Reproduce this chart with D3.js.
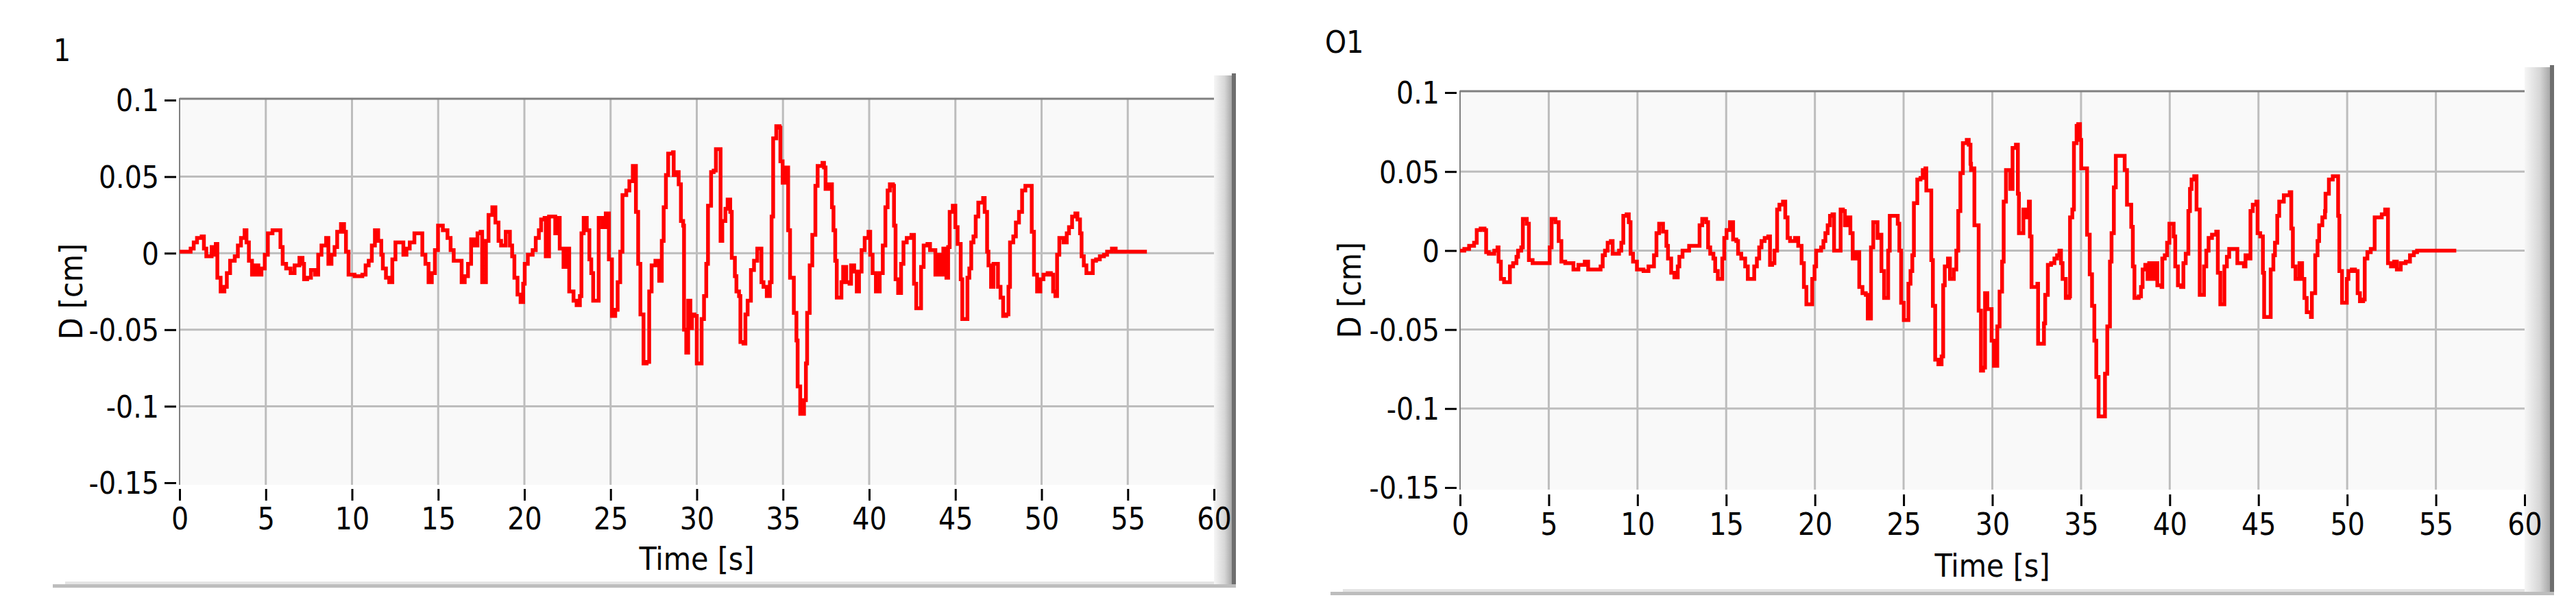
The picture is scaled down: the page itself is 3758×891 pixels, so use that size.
<!DOCTYPE html>
<html>
<head>
<meta charset="utf-8">
<script src="https://cdn.jsdelivr.net/npm/d3@7"></script>
<style>
  body { margin: 0; background: #fff; }
  svg text { font-family: "Liberation Sans Narrow", "DejaVu Sans Condensed", "Liberation Sans", sans-serif; fill: #000; }
</style>
</head>
<body>
<svg id="chart" width="3758" height="891"></svg>
<script>
// tick values shared by both graphs
const xTicks = d3.range(0, 61, 5);
const yTicks = [0.1, 0.05, 0, -0.05, -0.1, -0.15];
const gridX = d3.range(5, 56, 5);
const gridY = [0.05, 0, -0.05, -0.1];
const titles = ["1", "O1"];
const xLabel = "Time [s]";
const yLabel = "D [cm]";

// [time s, displacement cm]
const trace1 = [[0.00,0.001],[0.37,0.001],[0.64,0.003],[0.82,0.007],[1.01,0.010],[1.28,0.011],[1.41,0.003],[1.55,-0.002],[1.74,-0.002],[1.86,0.004],[2.01,-0.001],[2.10,0.006],[2.19,-0.016],[2.38,-0.025],[2.60,-0.022],[2.74,-0.013],[2.93,-0.005],[3.20,-0.002],[3.38,0.005],[3.56,0.010],[3.77,0.015],[3.88,0.007],[4.02,-0.005],[4.20,-0.014],[4.39,-0.008],[4.57,-0.014],[4.75,-0.010],[4.94,-0.001],[5.12,0.013],[5.39,0.015],[5.67,0.015],[5.85,0.004],[5.98,-0.007],[6.18,-0.010],[6.44,-0.013],[6.67,-0.008],[6.95,-0.003],[7.13,-0.007],[7.22,-0.017],[7.40,-0.016],[7.62,-0.011],[7.86,-0.014],[8.04,-0.001],[8.23,0.005],[8.50,0.010],[8.63,-0.007],[8.81,-0.001],[8.99,0.004],[9.14,0.014],[9.36,0.019],[9.54,0.014],[9.65,0.001],[9.80,-0.014],[10.15,-0.015],[10.60,-0.014],[10.79,-0.008],[10.97,-0.005],[11.15,0.005],[11.33,0.015],[11.52,0.008],[11.70,-0.001],[11.79,-0.010],[11.97,-0.016],[12.16,-0.019],[12.34,-0.004],[12.52,0.007],[12.80,0.007],[12.98,-0.001],[13.16,0.003],[13.35,0.007],[13.62,0.013],[13.86,0.013],[14.08,-0.001],[14.26,-0.007],[14.44,-0.019],[14.63,-0.013],[14.81,0.002],[14.99,0.018],[15.27,0.015],[15.54,0.010],[15.72,0.002],[15.90,-0.005],[16.18,-0.005],[16.36,-0.019],[16.54,-0.015],[16.73,-0.007],[16.91,0.009],[17.09,0.005],[17.28,0.013],[17.46,0.014],[17.55,-0.019],[17.77,0.008],[17.92,0.025],[18.14,0.030],[18.32,0.020],[18.50,0.008],[18.65,0.005],[18.92,0.014],[19.16,0.005],[19.29,-0.002],[19.42,-0.016],[19.60,-0.027],[19.78,-0.032],[19.93,-0.020],[20.02,-0.007],[20.20,-0.001],[20.48,0.002],[20.66,0.010],[20.84,0.015],[20.97,0.022],[21.17,0.023],[21.24,-0.002],[21.43,0.024],[21.66,0.024],[21.79,0.013],[21.94,0.023],[22.05,0.003],[22.27,-0.009],[22.43,0.003],[22.60,-0.025],[22.85,-0.031],[23.03,-0.034],[23.22,-0.028],[23.31,0.013],[23.44,0.023],[23.62,0.015],[23.77,-0.004],[23.88,-0.013],[23.99,-0.031],[24.22,-0.031],[24.31,0.023],[24.53,0.017],[24.72,0.026],[24.90,-0.004],[25.08,-0.041],[25.27,-0.037],[25.41,-0.019],[25.56,0.001],[25.69,0.038],[25.91,0.041],[26.09,0.047],[26.29,0.057],[26.47,0.027],[26.60,-0.007],[26.73,-0.040],[26.91,-0.072],[27.09,-0.071],[27.24,-0.025],[27.38,-0.008],[27.60,-0.005],[27.82,-0.018],[27.97,0.008],[28.08,0.030],[28.21,0.051],[28.34,0.065],[28.62,0.066],[28.66,0.051],[28.80,0.053],[28.95,0.045],[29.08,0.021],[29.21,0.018],[29.26,-0.050],[29.39,-0.065],[29.50,-0.031],[29.63,-0.049],[29.72,-0.040],[29.87,-0.041],[30.00,-0.072],[30.18,-0.072],[30.28,-0.043],[30.42,-0.028],[30.55,-0.007],[30.65,0.031],[30.83,0.053],[30.98,0.054],[31.11,0.068],[31.29,0.068],[31.38,0.008],[31.48,0.021],[31.66,0.029],[31.79,0.035],[31.94,0.027],[32.03,-0.003],[32.21,-0.015],[32.30,-0.025],[32.45,-0.028],[32.53,-0.058],[32.71,-0.059],[32.82,-0.040],[32.95,-0.031],[33.14,-0.011],[33.32,-0.005],[33.51,0.003],[33.69,0.003],[33.75,-0.019],[33.87,-0.022],[34.06,-0.028],[34.24,-0.019],[34.34,0.024],[34.43,0.075],[34.61,0.083],[34.80,0.082],[34.85,0.060],[34.98,0.046],[35.17,0.056],[35.30,0.015],[35.41,-0.016],[35.59,-0.016],[35.63,-0.039],[35.78,-0.057],[35.85,-0.087],[36.00,-0.105],[36.14,-0.105],[36.22,-0.096],[36.33,-0.072],[36.40,-0.039],[36.55,-0.008],[36.70,0.012],[36.88,0.044],[37.01,0.057],[37.29,0.059],[37.38,0.056],[37.47,0.042],[37.66,0.045],[37.84,0.030],[37.93,0.015],[38.03,-0.005],[38.12,-0.029],[38.30,-0.029],[38.39,-0.019],[38.49,-0.009],[38.67,-0.019],[38.86,-0.020],[38.95,-0.008],[39.13,-0.012],[39.28,-0.025],[39.41,-0.012],[39.56,0.002],[39.74,0.010],[39.96,0.014],[40.06,-0.001],[40.20,-0.013],[40.39,-0.025],[40.61,-0.013],[40.79,0.005],[40.94,0.030],[41.07,0.041],[41.20,0.045],[41.38,0.044],[41.44,0.018],[41.53,-0.017],[41.68,-0.026],[41.85,-0.007],[41.99,0.007],[42.18,0.010],[42.45,0.012],[42.60,-0.020],[42.73,-0.036],[42.92,-0.036],[43.01,-0.009],[43.16,0.005],[43.38,0.006],[43.53,0.002],[43.75,0.002],[43.84,-0.014],[44.02,-0.001],[44.11,-0.014],[44.30,0.003],[44.48,-0.016],[44.58,0.004],[44.67,0.027],[44.85,0.031],[45.00,0.017],[45.13,0.006],[45.31,-0.017],[45.40,-0.043],[45.63,-0.043],[45.70,-0.016],[45.81,-0.010],[45.92,0.007],[46.05,0.011],[46.18,0.024],[46.33,0.033],[46.61,0.036],[46.70,0.027],[46.84,0.001],[46.92,-0.008],[47.07,-0.022],[47.21,-0.007],[47.47,-0.022],[47.62,-0.029],[47.77,-0.041],[47.95,-0.040],[48.08,-0.022],[48.17,0.007],[48.36,0.011],[48.51,0.020],[48.69,0.027],[48.87,0.041],[49.06,0.044],[49.28,0.044],[49.43,0.014],[49.56,-0.014],[49.74,-0.025],[49.93,-0.017],[50.11,-0.014],[50.35,-0.013],[50.54,-0.014],[50.67,-0.025],[50.80,-0.028],[50.90,-0.001],[51.03,0.010],[51.27,0.007],[51.46,0.013],[51.59,0.017],[51.77,0.024],[51.96,0.026],[52.08,0.022],[52.23,0.013],[52.32,-0.002],[52.45,-0.008],[52.60,-0.013],[52.88,-0.013],[52.97,-0.005],[53.16,-0.004],[53.38,-0.002],[53.62,-0.001],[53.80,0.001],[54.08,0.003],[54.30,0.001],[56.11,0.001]];

const trace2 = [[0.00,0.000],[0.24,0.001],[0.51,0.003],[0.79,0.005],[0.94,0.013],[1.16,0.014],[1.38,0.013],[1.47,-0.001],[1.62,-0.002],[1.80,-0.002],[1.93,0.000],[2.11,0.002],[2.17,-0.007],[2.30,-0.018],[2.48,-0.020],[2.66,-0.020],[2.81,-0.010],[2.99,-0.008],[3.18,-0.004],[3.27,0.000],[3.45,0.002],[3.54,0.020],[3.76,0.017],[3.88,-0.006],[4.09,-0.008],[4.46,-0.008],[4.92,-0.008],[5.05,0.002],[5.16,0.020],[5.38,0.018],[5.56,0.006],[5.71,-0.007],[5.93,-0.008],[6.21,-0.008],[6.39,-0.012],[6.67,-0.009],[7.03,-0.007],[7.22,-0.012],[7.58,-0.012],[7.92,-0.010],[8.04,-0.003],[8.17,0.000],[8.32,0.005],[8.50,0.006],[8.60,-0.002],[8.78,-0.002],[8.96,0.000],[9.09,0.005],[9.20,0.022],[9.39,0.023],[9.51,0.018],[9.61,-0.002],[9.75,-0.007],[9.97,-0.012],[10.34,-0.013],[10.62,-0.010],[10.93,-0.003],[11.07,0.011],[11.22,0.017],[11.44,0.012],[11.63,0.003],[11.72,-0.005],[11.90,-0.014],[12.08,-0.017],[12.27,-0.010],[12.36,-0.004],[12.54,0.000],[12.91,0.003],[13.37,0.003],[13.50,0.016],[13.65,0.020],[13.87,0.018],[13.98,0.002],[14.10,-0.002],[14.28,-0.005],[14.38,-0.013],[14.53,-0.018],[14.75,-0.018],[14.78,-0.005],[14.89,0.008],[15.02,0.013],[15.21,0.018],[15.39,0.007],[15.57,0.006],[15.67,-0.002],[15.85,-0.005],[16.07,-0.010],[16.22,-0.018],[16.49,-0.018],[16.58,-0.010],[16.73,-0.005],[16.86,0.002],[16.99,0.006],[17.17,0.008],[17.37,0.009],[17.47,-0.009],[17.59,-0.008],[17.72,0.000],[17.87,0.026],[18.00,0.029],[18.20,0.031],[18.33,0.021],[18.46,0.008],[18.60,0.006],[18.88,0.008],[19.06,0.003],[19.25,-0.008],[19.38,-0.023],[19.52,-0.034],[19.80,-0.034],[19.85,-0.018],[19.98,-0.010],[20.07,0.000],[20.35,0.002],[20.48,0.006],[20.59,0.011],[20.72,0.016],[20.85,0.022],[20.99,0.023],[21.08,0.000],[21.32,0.000],[21.45,0.026],[21.58,0.025],[21.69,0.016],[21.82,0.021],[22.00,0.011],[22.13,-0.005],[22.31,-0.001],[22.46,-0.001],[22.50,-0.023],[22.68,-0.027],[22.87,-0.028],[22.98,-0.043],[23.10,-0.043],[23.16,0.002],[23.29,0.018],[23.47,0.018],[23.53,0.008],[23.66,0.010],[23.75,-0.013],[23.90,-0.030],[24.08,-0.030],[24.13,0.000],[24.22,0.022],[24.59,0.022],[24.67,0.017],[24.76,0.000],[24.86,-0.033],[25.01,-0.044],[25.23,-0.044],[25.27,-0.021],[25.39,-0.013],[25.49,-0.003],[25.58,0.030],[25.77,0.045],[25.95,0.046],[26.08,0.051],[26.23,0.052],[26.28,0.038],[26.46,0.038],[26.56,-0.006],[26.65,-0.035],[26.78,-0.069],[26.96,-0.072],[27.14,-0.067],[27.23,-0.022],[27.32,-0.010],[27.50,-0.005],[27.61,-0.018],[27.83,-0.012],[27.97,0.000],[28.08,0.025],[28.20,0.049],[28.34,0.068],[28.56,0.070],[28.67,0.067],[28.77,0.055],[28.80,0.051],[28.93,0.052],[28.99,0.016],[29.17,0.016],[29.23,-0.038],[29.36,-0.076],[29.48,-0.074],[29.59,-0.027],[29.72,-0.037],[29.91,-0.037],[29.96,-0.057],[30.09,-0.073],[30.22,-0.073],[30.28,-0.048],[30.41,-0.026],[30.55,-0.007],[30.64,0.031],[30.77,0.051],[30.92,0.051],[31.01,0.039],[31.14,0.065],[31.33,0.067],[31.44,0.036],[31.50,0.011],[31.66,0.011],[31.75,0.026],[31.93,0.021],[32.06,0.031],[32.12,0.009],[32.21,-0.023],[32.39,-0.023],[32.54,-0.021],[32.58,-0.059],[32.80,-0.059],[32.91,-0.046],[32.98,-0.028],[33.13,-0.009],[33.31,-0.008],[33.50,-0.005],[33.65,-0.003],[33.78,0.000],[33.87,-0.008],[33.96,-0.018],[34.09,-0.018],[34.14,-0.030],[34.33,-0.029],[34.38,0.021],[34.51,0.026],[34.60,0.068],[34.75,0.079],[34.84,0.080],[34.94,0.070],[35.01,0.052],[35.25,0.052],[35.34,0.010],[35.49,-0.015],[35.62,-0.035],[35.75,-0.057],[35.86,-0.080],[35.99,-0.105],[36.26,-0.105],[36.35,-0.078],[36.48,-0.048],[36.63,-0.007],[36.72,0.011],[36.85,0.040],[36.96,0.060],[37.15,0.060],[37.37,0.060],[37.46,0.051],[37.59,0.029],[37.73,0.029],[37.83,0.015],[37.92,-0.010],[38.01,-0.030],[38.25,-0.029],[38.38,-0.023],[38.47,-0.012],[38.62,-0.009],[38.75,-0.018],[38.84,-0.008],[39.02,-0.018],[39.17,-0.008],[39.30,-0.022],[39.54,-0.023],[39.58,-0.005],[39.72,-0.003],[39.85,0.005],[39.98,0.017],[40.13,0.017],[40.22,0.009],[40.31,-0.010],[40.46,-0.022],[40.64,-0.023],[40.77,-0.008],[40.90,-0.002],[41.05,0.025],[41.14,0.039],[41.23,0.045],[41.38,0.047],[41.51,0.026],[41.69,-0.028],[41.88,-0.028],[41.93,-0.010],[42.06,0.000],[42.19,0.008],[42.38,0.010],[42.62,0.012],[42.71,-0.014],[42.85,-0.034],[42.98,-0.034],[43.08,-0.010],[43.22,-0.004],[43.35,0.001],[43.63,0.001],[43.81,-0.008],[44.03,-0.008],[44.18,-0.010],[44.27,-0.003],[44.46,-0.005],[44.55,0.025],[44.68,0.029],[44.88,0.031],[44.95,0.011],[45.10,0.009],[45.25,-0.014],[45.32,-0.042],[45.56,-0.042],[45.69,-0.012],[45.84,-0.003],[45.93,0.005],[46.06,0.022],[46.17,0.031],[46.43,0.035],[46.76,0.037],[46.85,0.014],[46.94,-0.010],[47.09,-0.018],[47.31,-0.008],[47.46,-0.018],[47.59,-0.030],[47.72,-0.039],[47.96,-0.042],[48.01,-0.027],[48.20,-0.003],[48.33,0.006],[48.42,0.016],[48.60,0.021],[48.75,0.025],[48.78,0.036],[48.97,0.045],[49.19,0.047],[49.43,0.047],[49.49,0.022],[49.56,-0.013],[49.71,-0.033],[49.89,-0.033],[49.98,-0.018],[50.07,-0.013],[50.26,-0.012],[50.44,-0.013],[50.59,-0.027],[50.72,-0.032],[50.90,-0.031],[50.99,-0.005],[51.14,-0.001],[51.33,0.001],[51.46,0.001],[51.55,0.021],[51.82,0.021],[51.95,0.023],[52.14,0.026],[52.30,-0.008],[52.47,-0.010],[52.65,-0.007],[52.80,-0.012],[53.02,-0.008],[53.30,-0.007],[53.54,-0.003],[53.76,-0.001],[53.94,0.000],[56.15,0.000]];

const svg = d3.select("#chart");

// shared gradient for the raised right edge of each graph frame
const defs = svg.append("defs");
const grad = defs.append("linearGradient").attr("id", "edge").attr("x1", 0).attr("x2", 1);
grad.append("stop").attr("offset", "0%").attr("stop-color", "#f6f6f6");
grad.append("stop").attr("offset", "60%").attr("stop-color", "#d6d6d6");
grad.append("stop").attr("offset", "100%").attr("stop-color", "#a8a8a8");

// plain hyphen minus, like the original labels
const tickFmt = (d) => String(+d.toFixed(2));

const renderPanel = (data, title, p) => {
  const g = svg.append("g");

  const xScale = d3.scaleLinear().domain([0, 60]).range([p.left, p.right]);
  const yScale = d3.scaleLinear().domain([-0.15, 0.1]).range([p.bottom, p.top]);

  //frame: shadow bar on the right and line at the bottom
  g.append("rect")
    .attr("x", p.right).attr("y", p.frameTop)
    .attr("width", p.edgeW).attr("height", p.frameBottom - p.frameTop)
    .attr("fill", "url(#edge)");
  g.append("rect")
    .attr("x", p.right + p.edgeW).attr("y", p.frameTop - 3)
    .attr("width", 6).attr("height", p.frameBottom - p.frameTop + 3)
    .attr("fill", "#6e6e6e");
  g.append("rect")
    .attr("x", p.frameLeft + 18).attr("y", p.frameBottom - 8)
    .attr("width", p.right - p.frameLeft - 18).attr("height", 4)
    .attr("fill", "#e4e4e4");
  g.append("rect")
    .attr("x", p.frameLeft).attr("y", p.frameBottom - 4)
    .attr("width", p.right + p.edgeW + 6 - p.frameLeft).attr("height", 5)
    .attr("fill", "#bdbdbd");

  // plot background
  g.append("rect")
    .attr("x", p.left).attr("y", p.top - 3)
    .attr("width", p.right - p.left).attr("height", p.bottom - p.top + 6)
    .attr("fill", "#f9f9f9");

  // grid
  g.selectAll(".gx").data(gridX).enter().append("line")
    .attr("x1", (d) => xScale(d)).attr("x2", (d) => xScale(d))
    .attr("y1", p.top - 3).attr("y2", p.bottom + 3)
    .attr("stroke", "#bdbdbd").attr("stroke-width", 3);
  g.selectAll(".gy").data(gridY).enter().append("line")
    .attr("x1", p.left).attr("x2", p.right)
    .attr("y1", (d) => yScale(d)).attr("y2", (d) => yScale(d))
    .attr("stroke", "#bdbdbd").attr("stroke-width", 3);

  // plot borders top + left
  g.append("line").attr("x1", p.left).attr("x2", p.right)
    .attr("y1", p.top - 2).attr("y2", p.top - 2)
    .attr("stroke", "#808080").attr("stroke-width", 3);
  g.append("line").attr("x1", p.left).attr("x2", p.left)
    .attr("y1", p.top - 3).attr("y2", p.bottom + 3)
    .attr("stroke", "#808080").attr("stroke-width", 2);

  // trace
  const line = d3.line()
    .x((d) => xScale(d[0]))
    .y((d) => yScale(d[1]))
    .curve(d3.curveStepAfter);
  g.append("path")
    .datum(data)
    .attr("d", line)
    .attr("fill", "none")
    .attr("stroke", "#ff0000")
    .attr("stroke-width", 5.5)
    .attr("stroke-linejoin", "miter");

  // axes
  const yAxis = d3.axisLeft(yScale).tickValues(yTicks).tickSize(17).tickPadding(8)
    .tickFormat(tickFmt);
  const yAxisG = g.append("g").attr("transform", `translate(${p.left - 5},0)`).call(yAxis);
  yAxisG.select(".domain").remove();
  yAxisG.selectAll("line").attr("stroke", "#000").attr("stroke-width", 3);
  yAxisG.selectAll("text").attr("font-size", 44).attr("dy", "0.36em");

  const xAxis = d3.axisBottom(xScale).tickValues(xTicks).tickSize(17).tickPadding(11);
  const xAxisG = g.append("g").attr("transform", `translate(0,${p.bottom + p.tickGap})`).call(xAxis);
  xAxisG.select(".domain").remove();
  xAxisG.selectAll("line").attr("stroke", "#000").attr("stroke-width", 3);
  xAxisG.selectAll("text").attr("font-size", 44);
  xAxisG.attr("font-family", null);
  yAxisG.attr("font-family", null);

  // labels
  g.append("text")
    .attr("x", (p.left + p.right) / 2)
    .attr("y", p.xLabelY)
    .attr("text-anchor", "middle")
    .attr("font-size", 46)
    .text(xLabel);
  g.append("text")
    .attr("transform", `translate(${p.yLabelX},${(p.top + p.bottom) / 2}) rotate(-90)`)
    .attr("text-anchor", "middle")
    .attr("font-size", 46)
    .text(yLabel);
  g.append("text")
    .attr("x", p.titleX)
    .attr("y", p.titleY)
    .attr("font-size", 44)
    .text(title);
};

renderPanel(trace1, titles[0], {
  left: 262, right: 1771, top: 146, bottom: 704, tickGap: 9,
  xLabelY: 831, yLabelX: 120, titleX: 78, titleY: 89,
  frameLeft: 77, frameTop: 110, frameBottom: 856, edgeW: 26
});
renderPanel(trace2, titles[1], {
  left: 2130, right: 3683, top: 135, bottom: 711, tickGap: 10,
  xLabelY: 841, yLabelX: 1985, titleX: 1933, titleY: 77,
  frameLeft: 1941, frameTop: 98, frameBottom: 867, edgeW: 37
});
</script>
</body>
</html>
